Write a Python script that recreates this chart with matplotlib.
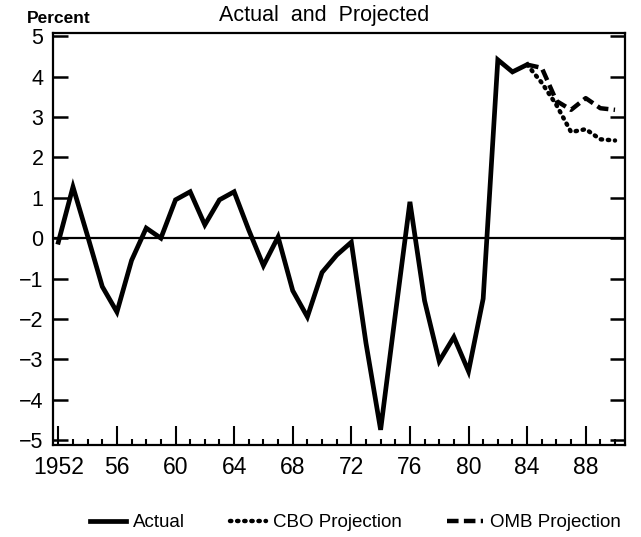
import matplotlib.pyplot as plt
from matplotlib.ticker import MultipleLocator, FixedLocator

plt.rcParams['font.family'] = ['Liberation Sans', 'DejaVu Sans']

# actual, 1952-1984
years = list(range(1952, 1985))
actual = [-0.1, 1.27, 0.05, -1.2, -1.83, -0.55, 0.25, 0.0, 0.95, 1.15,
          0.33, 0.95, 1.15, 0.2, -0.68, 0.03, -1.3, -1.95, -0.85, -0.42,
          -0.1, -2.6, -4.75, -1.9, 0.9, -1.55, -3.05, -2.45, -3.3, -1.5,
          4.42, 4.12, 4.3]

# projections, 1984-1990
proj_years = list(range(1984, 1991))
cbo = [4.3, 3.85, 3.3, 2.63, 2.7, 2.45, 2.42]
omb = [4.3, 4.22, 3.4, 3.18, 3.47, 3.22, 3.18]

xticks = [1952, 1956, 1960, 1964, 1968, 1972, 1976, 1980, 1984, 1988]
xlabels = ["1952", "56", "60", "64", "68", "72", "76", "80", "84", "88"]
yticks = [-5, -4, -3, -2, -1, 0, 1, 2, 3, 4, 5]

fig = plt.figure(figsize=(6.41, 5.37), dpi=100)
ax = fig.add_axes([0.083, 0.171, 0.892, 0.768])

ax.plot(years, actual, color="black", lw=3.4, solid_joinstyle="miter",
        label="Actual", zorder=3)
ax.plot(proj_years, cbo, color="black", lw=3.2, linestyle=(0, (0.3, 1.3)),
        dash_capstyle="round", label="CBO Projection", zorder=2)
ax.plot(proj_years, omb, color="black", lw=3.2, linestyle=(0, (2.6, 1.2)),
        label="OMB Projection", zorder=2)

ax.axhline(0, color="black", lw=1.6, zorder=1)

ax.set_xlim(1951.65, 1990.68)
ax.set_ylim(-5.13, 5.09)

ax.xaxis.set_major_locator(FixedLocator(xticks))
ax.set_xticklabels(xlabels)
ax.xaxis.set_minor_locator(MultipleLocator(1))
ax.set_yticks(yticks)
ax.set_yticklabels([str(v).replace("-", "\u2212") for v in yticks])

for s in ax.spines.values():
    s.set_linewidth(1.6)

ax.tick_params(axis="x", which="major", direction="in", length=14, width=1.5,
               labelsize=16.5, pad=8)
ax.tick_params(axis="x", which="minor", direction="in", length=4.5, width=1.5)
ax.tick_params(axis="y", which="major", direction="in", length=11, width=1.8,
               labelsize=15.5, pad=7, right=True)
ax.tick_params(axis="y", which="minor", left=False, right=False)

fig.text(0.042, 0.966, "Percent", fontsize=12.5, fontweight="bold",
         ha="left", va="center")
fig.text(0.506, 0.972, "Actual  and  Projected", fontsize=15.5,
         ha="center", va="center")

fig.legend(loc="center", bbox_to_anchor=(0.555, 0.027), ncol=3,
           frameon=False, fontsize=13.5, handlelength=1.9,
           handletextpad=0.4, columnspacing=2.4)

fig.savefig("out.png", dpi=100)
